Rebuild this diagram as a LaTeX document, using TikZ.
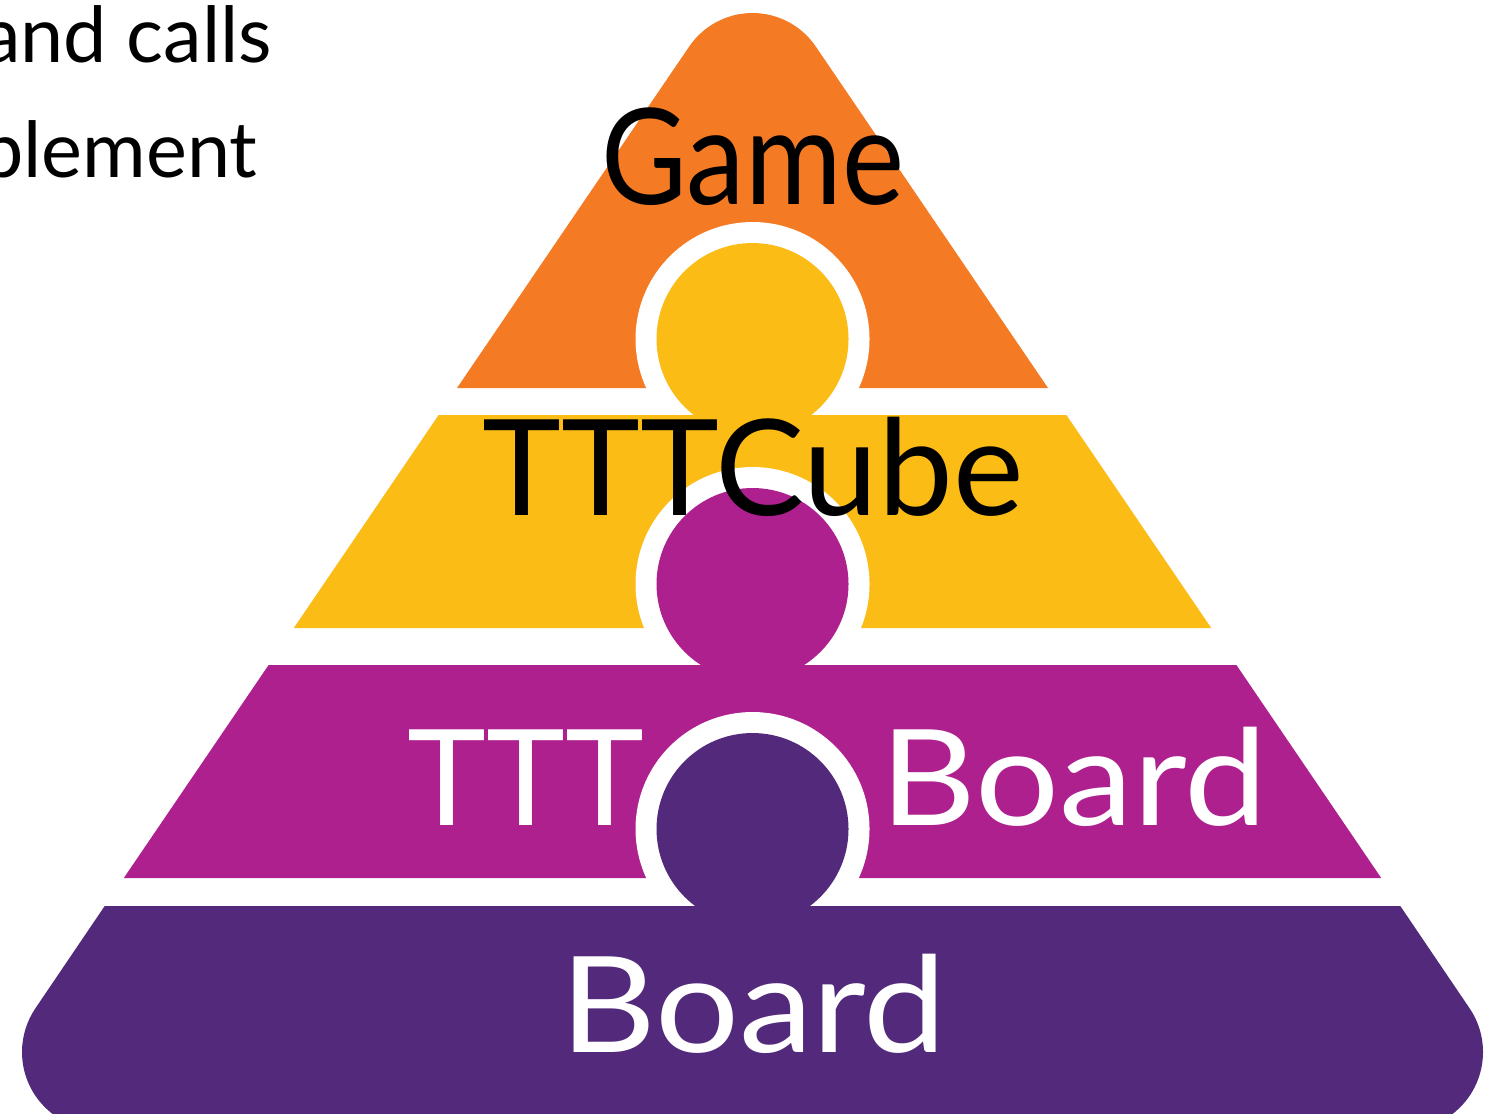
\documentclass[tikz,border=0pt]{standalone}
\usepackage{fontspec}
\setmainfont{Lato}
\usetikzlibrary{calc}
\definecolor{gameorange}{RGB}{244,122,35}
\definecolor{cubeyellow}{RGB}{252,188,22}
\definecolor{tttmagenta}{RGB}{173,32,142}
\definecolor{boardpurple}{RGB}{82,41,123}

\begin{document}
\begin{tikzpicture}[
  tiertext/.style={font=\fontsize{38}{40}\selectfont,anchor=base,inner sep=0pt},
  sidenote/.style={font=\fontsize{22}{26}\selectfont,anchor=base east,inner sep=0pt}
]
  \clip (0,-11.13) rectangle (14.85,0);

  % Ball centres
  \coordinate (b1) at (7.525,-3.39);
  \coordinate (b2) at (7.525,-5.84);
  \coordinate (b3) at (7.525,-8.29);

  % Top tier
  \fill[gameorange] (4.57,-3.88) -- (6.892,-0.465)
    arc[start angle=145.8,end angle=34.2,radius=0.765] -- (10.48,-3.88) -- cycle;
  \fill[white] (b1) circle (1.17);
  \fill[cubeyellow] (b1) circle (0.96);

  % Second tier
  \fill[cubeyellow] (4.386,-4.15) -- (10.664,-4.15) -- (12.112,-6.28) -- (2.938,-6.28) -- cycle;
  \fill[white] (b2) circle (1.17);
  \fill[tttmagenta] (b2) circle (0.96);

  % Third tier
  \fill[tttmagenta] (2.686,-6.65) -- (12.364,-6.65) -- (13.812,-8.78) -- (1.238,-8.78) -- cycle;
  \fill[white] (b3) circle (1.17);
  \fill[boardpurple] (b3) circle (0.96);

  % Base tier
  \fill[boardpurple] (1.047,-9.06) -- (14.003,-9.06) -- (14.695,-10.082)
    arc[start angle=34.2,end angle=-90,radius=0.78] -- (1.00,-11.30)
    arc[start angle=270,end angle=145.8,radius=0.78] -- cycle;

  % Tier names
  \node[tiertext] (game) at (7.525,-2.04) {\scalebox{0.88}[1]{Game}};
  \node[tiertext] (cube) at (7.53,-5.15) {TTTCube};
  \node[tiertext,text=white,anchor=base east] (ttt) at (6.45,-8.25) {TTT};
  \node[tiertext,text=white,anchor=base west] (tttboard) at (8.80,-8.25) {\scalebox{1.11}[1]{Board}};
  \node[tiertext,text=white] (board) at (7.535,-10.52) {\scalebox{1.11}[1]{Board}};

  % Text cut off at the left
  \node[sidenote] (calls) at (2.73,-0.62) {and calls};
  \node[sidenote] (impl) at (2.58,-1.77) {implement};

\end{tikzpicture}
\end{document}
